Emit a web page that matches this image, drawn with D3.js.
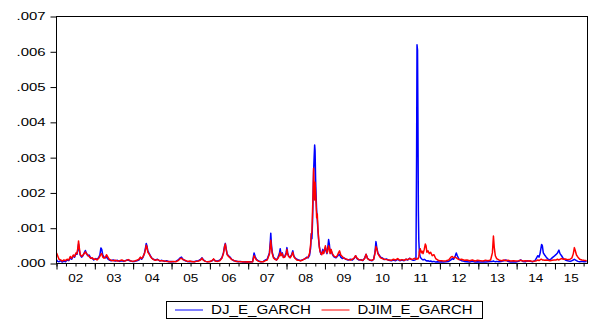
<!DOCTYPE html>
<html>
<head>
<meta charset="utf-8">
<script src="https://cdn.jsdelivr.net/npm/d3@7"></script>
<style>
  body { margin: 0; background: #fff; }
  svg { display: block; }
  text { font-family: Arial, "Liberation Sans", sans-serif; fill: #000; }
</style>
</head>
<body>
<script>
// observation dates (one line per year), shared by both series
var dates = [
  "2002-01-02","2002-01-12","2002-01-25","2002-02-10","2002-02-25","2002-03-12","2002-03-28","2002-04-12","2002-04-28","2002-05-12","2002-05-26","2002-06-10","2002-06-22","2002-07-05","2002-07-15","2002-07-24","2002-07-30","2002-08-06","2002-08-15","2002-08-28","2002-09-10","2002-09-22","2002-10-03","2002-10-12","2002-10-25","2002-11-08","2002-11-22","2002-12-08","2002-12-22",
  "2003-01-08","2003-01-22","2003-02-05","2003-02-18","2003-02-28","2003-03-08","2003-03-18","2003-03-30","2003-04-12","2003-04-22","2003-05-02","2003-05-18","2003-06-05","2003-06-25","2003-07-15","2003-08-05","2003-08-25","2003-09-15","2003-10-05","2003-10-25","2003-11-15","2003-12-05","2003-12-25",
  "2004-01-15","2004-02-05","2004-02-25","2004-03-10","2004-03-22","2004-04-05","2004-04-18","2004-04-28","2004-05-05","2004-05-12","2004-05-20","2004-05-30","2004-06-10","2004-06-25","2004-07-10","2004-07-30","2004-08-20","2004-09-10","2004-10-01","2004-10-25","2004-11-15","2004-12-05","2004-12-28",
  "2005-01-20","2005-02-10","2005-03-05","2005-03-20","2005-04-05","2005-04-20","2005-05-10","2005-06-01","2005-06-25","2005-07-15","2005-08-05","2005-08-25","2005-09-15","2005-10-05","2005-10-18","2005-11-01","2005-11-20","2005-12-10","2005-12-30",
  "2006-01-20","2006-02-05","2006-02-20","2006-03-15","2006-04-05","2006-04-25","2006-05-10","2006-05-20","2006-05-28","2006-06-05","2006-06-15","2006-06-28","2006-07-12","2006-07-28","2006-08-15","2006-09-05","2006-09-28","2006-10-20","2006-11-10","2006-12-05","2006-12-28",
  "2007-01-20","2007-02-12","2007-02-26","2007-03-08","2007-03-20","2007-04-10","2007-05-01","2007-05-25","2007-06-15","2007-07-01","2007-07-22","2007-07-30","2007-08-04","2007-08-10","2007-08-18","2007-08-30","2007-09-12","2007-09-28","2007-10-10","2007-10-25","2007-11-02","2007-11-10","2007-11-22","2007-12-02","2007-12-15","2007-12-28",
  "2008-01-05","2008-01-12","2008-01-22","2008-02-05","2008-02-20","2008-03-01","2008-03-10","2008-03-22","2008-04-08","2008-04-25","2008-05-15","2008-06-05","2008-06-25","2008-07-12","2008-07-25","2008-08-08","2008-08-18","2008-08-24","2008-08-30","2008-09-05","2008-09-10","2008-09-15","2008-09-20","2008-09-25","2008-09-29","2008-10-04","2008-10-09","2008-10-14","2008-10-20","2008-10-26","2008-11-01","2008-11-08","2008-11-15","2008-11-24","2008-12-02","2008-12-12","2008-12-20",
  "2009-01-05","2009-01-12","2009-01-20","2009-01-28","2009-02-05","2009-02-12","2009-02-20","2009-03-01","2009-03-10","2009-03-20","2009-04-01","2009-04-15","2009-04-28","2009-05-10","2009-05-20","2009-06-01","2009-06-15","2009-07-01","2009-07-20","2009-08-10","2009-09-01","2009-09-20","2009-10-08","2009-10-20","2009-11-02","2009-11-20","2009-12-10","2009-12-28",
  "2010-01-15","2010-01-28","2010-02-10","2010-03-01","2010-03-25","2010-04-10","2010-04-22","2010-05-02","2010-05-10","2010-05-20","2010-06-01","2010-06-15","2010-07-01","2010-07-20","2010-08-10","2010-09-01","2010-09-25","2010-10-15","2010-11-05","2010-11-25","2010-12-15",
  "2011-01-05","2011-01-25","2011-02-12","2011-03-01","2011-03-18","2011-04-05","2011-04-22","2011-05-08","2011-05-18","2011-05-24","2011-05-28","2011-06-02","2011-06-06","2011-06-10","2011-06-14","2011-06-20","2011-06-28","2011-07-06","2011-07-15","2011-07-25","2011-08-05","2011-08-15","2011-08-22","2011-08-30","2011-09-10","2011-09-22","2011-10-05","2011-10-20","2011-11-05","2011-11-22","2011-12-10","2011-12-28",
  "2012-01-15","2012-02-05","2012-03-01","2012-03-25","2012-04-15","2012-04-28","2012-05-10","2012-05-25","2012-06-05","2012-06-15","2012-07-01","2012-07-25","2012-08-20","2012-09-15","2012-10-10","2012-11-05","2012-11-30","2012-12-25",
  "2013-01-20","2013-02-15","2013-03-10","2013-04-05","2013-04-28","2013-05-15","2013-05-25","2013-06-02","2013-06-12","2013-06-25","2013-07-15","2013-08-10","2013-09-01","2013-09-20","2013-10-10","2013-11-05","2013-12-01","2013-12-25",
  "2014-01-20","2014-02-08","2014-03-01","2014-03-25","2014-04-15","2014-05-10","2014-06-01","2014-06-25","2014-07-10","2014-07-22","2014-08-02","2014-08-12","2014-08-20","2014-08-27","2014-09-03","2014-09-12","2014-09-25","2014-10-10","2014-10-28","2014-11-15","2014-12-05","2014-12-22",
  "2015-01-10","2015-01-25","2015-02-08","2015-02-18","2015-03-05","2015-03-22","2015-04-10","2015-05-01","2015-05-25","2015-06-12","2015-06-25","2015-07-05","2015-07-14","2015-07-25","2015-08-08","2015-08-25","2015-09-15","2015-10-05","2015-10-30"
];

// DJ_E_GARCH (blue)
var djEGarch = [
  .00010,.00006,.00005,.00008,.00004,.00007,.00005,.00010,.00008,.00016,.00012,.00022,.00018,.00028,.00026,.00040,.00055,.00038,.00024,.00018,.00022,.00030,.00037,.00030,.00022,.00024,.00016,.00014,.00010,
  .00014,.00012,.00016,.00024,.00044,.00040,.00024,.00018,.00016,.00020,.00014,.00010,.00008,.00010,.00007,.00009,.00006,.00008,.00006,.00009,.00010,.00007,.00006,
  .00006,.00008,.00010,.00016,.00012,.00018,.00030,.00045,.00057,.00050,.00036,.00030,.00024,.00016,.00012,.00010,.00012,.00007,.00009,.00006,.00008,.00005,.00006,
  .00005,.00006,.00010,.00015,.00018,.00012,.00008,.00006,.00005,.00006,.00005,.00007,.00008,.00012,.00016,.00010,.00006,.00005,.00006,
  .00007,.00012,.00008,.00007,.00009,.00016,.00030,.00048,.00057,.00042,.00026,.00022,.00018,.00012,.00008,.00007,.00005,.00006,.00004,.00005,.00004,
  .00005,.00005,.00030,.00020,.00012,.00007,.00005,.00006,.00010,.00012,.00030,.00060,.00086,.00055,.00032,.00018,.00014,.00010,.00016,.00028,.00042,.00025,.00030,.00018,.00020,.00030,
  .00045,.00030,.00020,.00018,.00026,.00036,.00022,.00016,.00012,.00010,.00008,.00011,.00013,.00018,.00016,.00024,.00045,.00085,.00070,.00120,.00190,.00260,.00300,.00336,.00320,.00240,.00190,.00150,.00125,.00095,.00070,.00050,.00036,.00026,.00030,.00040,.00030,
  .00045,.00035,.00028,.00045,.00068,.00055,.00030,.00038,.00028,.00022,.00018,.00016,.00020,.00024,.00026,.00018,.00014,.00016,.00012,.00010,.00012,.00010,.00015,.00022,.00014,.00010,.00011,.00008,
  .00016,.00026,.00015,.00010,.00008,.00012,.00030,.00062,.00045,.00030,.00024,.00018,.00016,.00011,.00013,.00009,.00008,.00010,.00008,.00012,.00008,
  .00010,.00008,.00012,.00010,.00015,.00011,.00009,.00010,.00012,.00300,.00620,.00605,.00400,.00150,.00065,.00030,.00018,.00015,.00012,.00010,.00012,.00010,.00008,.00007,.00008,.00006,.00007,.00005,.00006,.00004,.00005,.00004,
  .00005,.00004,.00005,.00006,.00010,.00014,.00012,.00020,.00030,.00022,.00012,.00008,.00006,.00005,.00004,.00006,.00004,.00005,
  .00004,.00005,.00004,.00005,.00006,.00006,.00007,.00006,.00005,.00006,.00005,.00006,.00008,.00010,.00006,.00004,.00005,.00004,
  .00006,.00010,.00006,.00005,.00008,.00006,.00005,.00008,.00016,.00022,.00018,.00028,.00042,.00054,.00050,.00030,.00024,.00018,.00012,.00010,.00016,.00020,
  .00025,.00030,.00038,.00028,.00022,.00014,.00010,.00008,.00006,.00008,.00010,.00012,.00010,.00008,.00006,.00005,.00006,.00005,.00006
];

// DJIM_E_GARCH (red)
var djimEGarch = [
  .00030,.00022,.00012,.00010,.00007,.00010,.00008,.00012,.00010,.00020,.00015,.00024,.00020,.00030,.00028,.00045,.00064,.00045,.00026,.00020,.00024,.00028,.00033,.00028,.00024,.00020,.00015,.00016,.00012,
  .00013,.00010,.00014,.00020,.00026,.00028,.00018,.00015,.00018,.00025,.00020,.00012,.00009,.00008,.00009,.00007,.00008,.00010,.00007,.00008,.00011,.00008,.00006,
  .00007,.00009,.00012,.00018,.00014,.00020,.00028,.00040,.00052,.00046,.00032,.00028,.00022,.00015,.00012,.00009,.00011,.00008,.00008,.00007,.00006,.00006,.00005,
  .00006,.00005,.00008,.00013,.00015,.00011,.00009,.00006,.00007,.00005,.00005,.00006,.00007,.00010,.00015,.00009,.00006,.00005,.00005,
  .00008,.00013,.00007,.00006,.00008,.00015,.00028,.00046,.00055,.00040,.00025,.00020,.00016,.00011,.00009,.00006,.00006,.00005,.00005,.00004,.00005,
  .00004,.00005,.00022,.00016,.00010,.00006,.00005,.00005,.00008,.00010,.00026,.00050,.00066,.00045,.00028,.00016,.00012,.00010,.00014,.00022,.00032,.00022,.00028,.00017,.00018,.00026,
  .00040,.00027,.00020,.00016,.00024,.00032,.00020,.00015,.00010,.00009,.00008,.00010,.00014,.00016,.00018,.00030,.00055,.00080,.00090,.00150,.00200,.00270,.00220,.00180,.00230,.00200,.00170,.00130,.00140,.00100,.00075,.00048,.00035,.00028,.00025,.00035,.00028,
  .00050,.00040,.00030,.00035,.00050,.00045,.00028,.00040,.00030,.00024,.00020,.00018,.00022,.00030,.00036,.00024,.00020,.00015,.00013,.00011,.00010,.00012,.00016,.00022,.00015,.00011,.00010,.00009,
  .00014,.00026,.00014,.00010,.00009,.00012,.00028,.00048,.00042,.00028,.00022,.00016,.00014,.00012,.00011,.00010,.00009,.00012,.00010,.00014,.00009,
  .00011,.00009,.00012,.00011,.00014,.00012,.00013,.00015,.00012,.00012,.00013,.00014,.00013,.00015,.00020,.00035,.00042,.00030,.00035,.00028,.00040,.00055,.00050,.00032,.00036,.00028,.00032,.00022,.00025,.00014,.00010,.00008,
  .00008,.00007,.00008,.00010,.00018,.00020,.00016,.00018,.00016,.00014,.00011,.00012,.00009,.00010,.00008,.00010,.00007,.00009,
  .00008,.00007,.00009,.00008,.00010,.00030,.00078,.00045,.00022,.00014,.00010,.00008,.00010,.00008,.00009,.00007,.00008,.00007,
  .00008,.00009,.00007,.00008,.00007,.00008,.00006,.00007,.00008,.00010,.00008,.00010,.00012,.00012,.00010,.00010,.00009,.00010,.00009,.00008,.00009,.00010,
  .00010,.00012,.00010,.00012,.00014,.00012,.00013,.00011,.00012,.00016,.00028,.00045,.00036,.00024,.00018,.00012,.00010,.00009,.00008
];

var seriesNames = ["DJ_E_GARCH", "DJIM_E_GARCH"];
var seriesColors = ["#0000ff", "#ff0000"];
var yTicks = [0, .001, .002, .003, .004, .005, .006, .007];
var yearLabels = ["02","03","04","05","06","07","08","09","10","11","12","13","14","15"];

if (dates.length != djEGarch.length || dates.length != djimEGarch.length)
  console.warn("length mismatch", dates.length, djEGarch.length, djimEGarch.length);

var W = 589, H = 323;
// plot box (half-pixel offsets keep 1px lines crisp)
var plotL = 56.5, plotR = 587.5, plotT = 16.5, plotB = 263.5;

var parse = d3.timeParse("%Y-%m-%d");
var startDate = new Date(2002, 0, 1), endDate = new Date(2015, 10, 7);

var x = d3.scaleTime().domain([startDate, endDate]).range([plotL, plotR]);
var y = d3.scaleLinear().domain([0, .007]).range([plotB, plotT]);

var svg = d3.select("body").append("svg")
    .attr("width", W)
    .attr("height", H);

svg.append("defs").append("clipPath").attr("id", "plot")
  .append("rect")
    .attr("x", plotL).attr("y", plotT - 1)
    .attr("width", plotR - plotL).attr("height", plotB - plotT + 1);

// y axis
var yAxis = svg.append("g")
    .attr("transform", "translate(" + plotL + ",0)")
    .call(d3.axisLeft(y).tickValues(yTicks).tickSize(6).tickPadding(5)
      .tickFormat(function(d) { return d3.format(".3f")(d).replace(/^0/, ""); }));
yAxis.select(".domain").remove();
yAxis.selectAll("line").attr("stroke", "#000");
yAxis.selectAll("text")
    .attr("font-family", "Arial, 'Liberation Sans', sans-serif")
    .attr("font-size", 10.5)
    .attr("fill", "#000")
    .attr("textLength", 29)
    .attr("lengthAdjust", "spacingAndGlyphs");

// x axis: year ticks + quarterly minor ticks
var xMinor = svg.append("g")
    .attr("transform", "translate(0," + plotB + ")")
    .call(d3.axisBottom(x).ticks(d3.timeMonth.every(3)).tickSize(3).tickFormat(""));
xMinor.select(".domain").remove();
var xMajor = svg.append("g")
    .attr("transform", "translate(0," + plotB + ")")
    .call(d3.axisBottom(x).ticks(d3.timeYear.every(1)).tickSize(6).tickFormat(""));
xMajor.select(".domain").remove();
svg.selectAll(".tick line").attr("stroke", "#000");

// year labels centred in each (visible) year
yearLabels.forEach(function(lab, i) {
  var a = new Date(2002 + i, 0, 1), b = new Date(2003 + i, 0, 1);
  if (b > endDate) b = endDate;
  svg.append("text")
      .attr("x", (x(a) + x(b)) / 2)
      .attr("y", 281.5)
      .attr("text-anchor", "middle")
      .attr("font-size", 11.5)
      .attr("textLength", 15)
      .attr("lengthAdjust", "spacingAndGlyphs")
      .text(lab);
});

// lines
var rows = dates.map(function(d, i) {
  return { date: parse(d), v: [djEGarch[i], djimEGarch[i]] };
});
var g = svg.append("g").attr("clip-path", "url(#plot)");
seriesNames.forEach(function(name, k) {
  var line = d3.line()
      .x(function(d) { return x(d.date); })
      .y(function(d) { return y(d.v[k]); });
  g.append("path")
      .datum(rows)
      .attr("fill", "none")
      .attr("stroke", seriesColors[k])
      .attr("stroke-width", 1.5)
      .attr("stroke-linejoin", "round")
      .attr("d", line);
});

// frame
svg.append("rect")
    .attr("x", plotL).attr("y", plotT)
    .attr("width", plotR - plotL).attr("height", plotB - plotT)
    .attr("fill", "none")
    .attr("stroke", "#000");

// legend
var legend = svg.append("g");
legend.append("rect")
    .attr("x", 166.5).attr("y", 301.5)
    .attr("width", 316).attr("height", 17)
    .attr("fill", "none").attr("stroke", "#000");
var legX = [175, 321.5], legW = [100, 115];
seriesNames.forEach(function(name, k) {
  legend.append("line")
      .attr("x1", legX[k]).attr("x2", legX[k] + 28)
      .attr("y1", 310).attr("y2", 310)
      .attr("stroke", seriesColors[k]).attr("stroke-width", 1);
  legend.append("text")
      .attr("x", legX[k] + 36).attr("y", 314.3)
      .attr("font-size", 12)
      .attr("textLength", legW[k])
      .attr("lengthAdjust", "spacingAndGlyphs")
      .text(name);
});
</script>
</body>
</html>
